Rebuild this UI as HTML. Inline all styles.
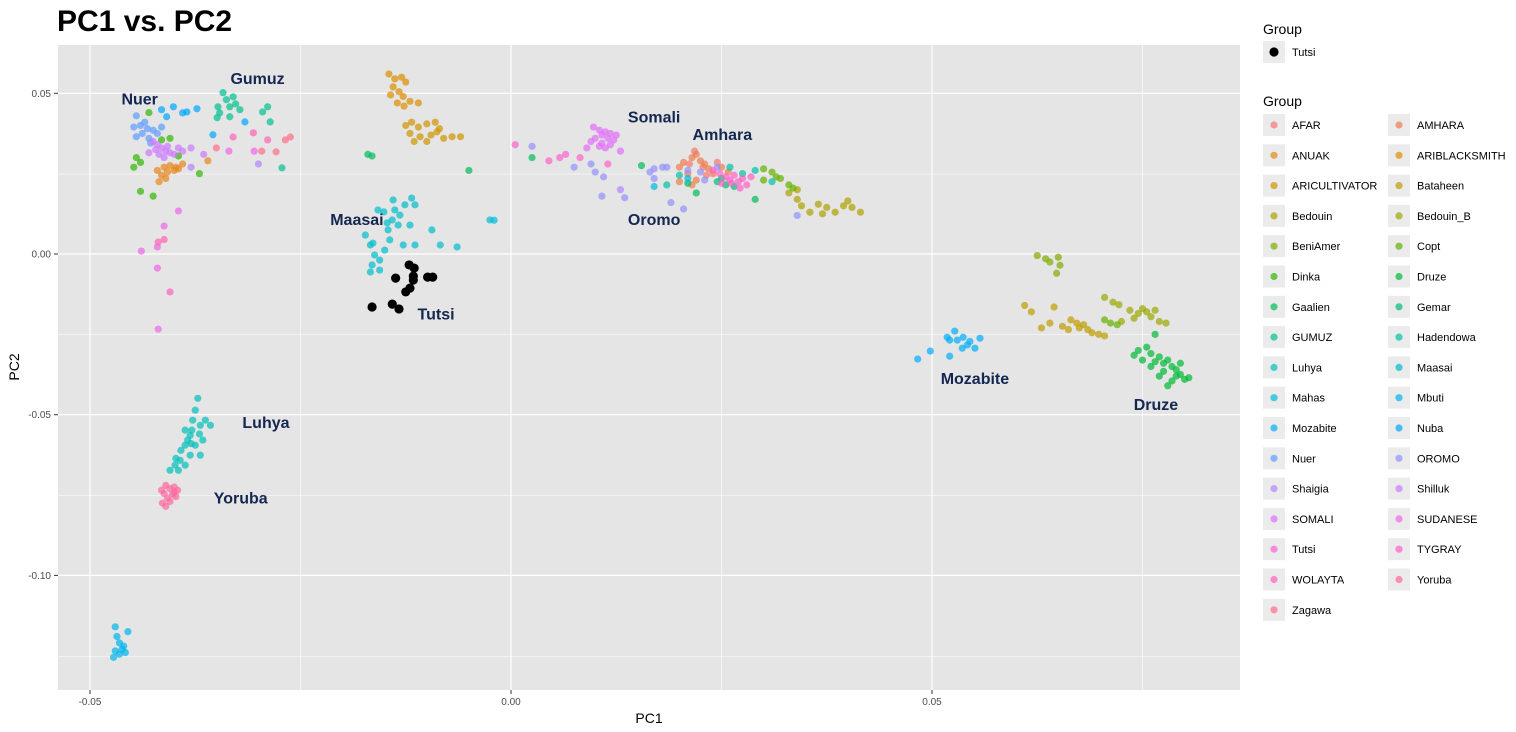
<!DOCTYPE html>
<html><head><meta charset="utf-8"><style>
html,body{margin:0;padding:0;background:#fff;}
svg{display:block;font-family:"Liberation Sans",Arial,sans-serif;}
</style></head><body>
<svg id="chart" width="1516" height="732" viewBox="0 0 1516 732">
<text x="57" y="31" font-size="30" font-weight="bold" fill="#000">PC1 vs. PC2</text>
<rect x="58" y="45" width="1182" height="645" fill="#e5e5e5"/>
<g id="grid"></g><g id="pts"></g><g id="ann"></g><g id="axes"></g><g id="legend"></g>
<text x="649" y="723" font-size="14" text-anchor="middle" fill="#000">PC1</text>
<text transform="translate(19,367) rotate(-90)" font-size="14" text-anchor="middle" fill="#000">PC2</text>
</svg>
<script>
const groupNames=["AFAR","AMHARA","ANUAK","ARIBLACKSMITH","ARICULTIVATOR","Bataheen","Bedouin","Bedouin_B","BeniAmer","Copt","Dinka","Druze","Gaalien","Gemar","GUMUZ","Hadendowa","Luhya","Maasai","Mahas","Mbuti","Mozabite","Nuba","Nuer","OROMO","Shaigia","Shilluk","SOMALI","SUDANESE","Tutsi","TYGRAY","WOLAYTA","Yoruba","Zagawa"];
const xTicks=[-0.05,0,0.05];
const xTickLabels=["-0.05","0.00","0.05"];
const yTicks=[0.05,0,-0.05,-0.10];
const yTickLabels=["0.05","0.00","-0.05","-0.10"];
const afar=[[0.0218,0.0320],[0.0228,0.0270],[0.0245,0.0285],[0.0212,0.0280],[0.0232,0.0245]];
const amhara=[[0.0200,0.0270],[0.0205,0.0285],[0.0215,0.0300],[0.0220,0.0310],[0.0225,0.0290],[0.0230,0.0280],[0.0210,0.0250],[0.0200,0.0225],[0.0235,0.0265],[0.0240,0.0250],[0.0215,0.0215],[0.0250,0.0270],[0.0220,0.0230],[0.0258,0.0255]];
const anuak=[[-0.0420,0.0260],[-0.0412,0.0270],[-0.0405,0.0275],[-0.0398,0.0270],[-0.0408,0.0255],[-0.0415,0.0245],[-0.0400,0.0260],[-0.0410,0.0235],[-0.0418,0.0225],[-0.0390,0.0280],[-0.0360,0.0290],[-0.0395,0.0265]];
const ariblacksmith=[[-0.0145,0.0560],[-0.0138,0.0545],[-0.0130,0.0550],[-0.0125,0.0535],[-0.0140,0.0520],[-0.0133,0.0505],[-0.0128,0.0490],[-0.0143,0.0495],[-0.0120,0.0475],[-0.0110,0.0470],[-0.0135,0.0470],[-0.0127,0.0460]];
const aricultivator=[[-0.0125,0.0400],[-0.0118,0.0410],[-0.0110,0.0395],[-0.0100,0.0405],[-0.0090,0.0410],[-0.0085,0.0390],[-0.0120,0.0375],[-0.0108,0.0365],[-0.0095,0.0370],[-0.0080,0.0360],[-0.0070,0.0365],[-0.0060,0.0365],[-0.0115,0.0350],[-0.0100,0.0350],[-0.0088,0.0380]];
const bataheen=[[0.0610,-0.0160],[0.0618,-0.0180],[0.0630,-0.0230],[0.0640,-0.0215],[0.0655,-0.0225],[0.0665,-0.0205],[0.0672,-0.0215],[0.0675,-0.0230],[0.0680,-0.0220],[0.0685,-0.0235],[0.0690,-0.0245],[0.0698,-0.0250],[0.0705,-0.0255],[0.0662,-0.0235],[0.0645,-0.0165]];
const bedouin=[[0.0330,0.0190],[0.0340,0.0170],[0.0345,0.0150],[0.0355,0.0130],[0.0365,0.0155],[0.0375,0.0145],[0.0385,0.0130],[0.0395,0.0150],[0.0400,0.0165],[0.0405,0.0145],[0.0415,0.0130],[0.0370,0.0125],[0.0340,0.0200]];
const bedouinB=[[0.0705,-0.0135],[0.0715,-0.0150],[0.0722,-0.0158],[0.0735,-0.0175],[0.0745,-0.0185],[0.0750,-0.0170],[0.0755,-0.0180],[0.0760,-0.0195],[0.0770,-0.0210],[0.0740,-0.0200],[0.0765,-0.0175],[0.0725,-0.0210],[0.0778,-0.0215]];
const beniAmer=[[0.0625,-0.0005],[0.0640,-0.0025],[0.0650,-0.0010],[0.0652,-0.0035],[0.0648,-0.0060],[0.0635,-0.0015]];
const copt=[[0.0300,0.0265],[0.0310,0.0255],[0.0315,0.0240],[0.0320,0.0235],[0.0330,0.0215],[0.0335,0.0205],[0.0300,0.0230],[0.0705,-0.0205],[0.0712,-0.0215],[0.0720,-0.0220]];
const dinka=[[-0.0445,0.0300],[-0.0440,0.0285],[-0.0448,0.0270],[-0.0440,0.0195],[-0.0425,0.0180],[-0.0430,0.0440],[-0.0405,0.0360],[-0.0395,0.0305],[-0.0370,0.0250],[-0.0415,0.0355]];
const druze=[[0.0745,-0.0300],[0.0755,-0.0290],[0.0760,-0.0310],[0.0770,-0.0320],[0.0765,-0.0335],[0.0775,-0.0340],[0.0780,-0.0330],[0.0785,-0.0350],[0.0790,-0.0360],[0.0775,-0.0365],[0.0795,-0.0375],[0.0800,-0.0390],[0.0785,-0.0395],[0.0770,-0.0380],[0.0760,-0.0350],[0.0750,-0.0330],[0.0805,-0.0385],[0.0780,-0.0410],[0.0790,-0.0380],[0.0765,-0.0250],[0.0795,-0.0340],[0.0740,-0.0315]];
const gaalien=[[0.0025,0.0300],[0.0155,0.0275],[0.0220,0.0190],[0.0210,0.0220],[0.0290,0.0170],[-0.0170,0.0310],[-0.0165,0.0305],[-0.0050,0.0260]];
const gemar=[[0.0245,0.0225],[0.0255,0.0215],[0.0265,0.0210],[0.0250,0.0235]];
const gumuz=[[-0.0342,0.0502],[-0.0330,0.0489],[-0.0348,0.0458],[-0.0334,0.0458],[-0.0322,0.0449],[-0.0349,0.0424],[-0.0346,0.0439],[-0.0334,0.0427],[-0.0295,0.0442],[-0.0289,0.0458],[-0.0286,0.0411],[-0.0272,0.0268],[-0.0338,0.0480],[-0.0327,0.0467]];
const hadendowa=[[0.0185,0.0215],[0.0200,0.0245],[0.0260,0.0270],[0.0275,0.0250],[0.0290,0.0260],[0.0310,0.0225]];
const luhya=[[-0.0372,-0.0449],[-0.0375,-0.0486],[-0.0363,-0.0517],[-0.0357,-0.0533],[-0.0369,-0.0533],[-0.0379,-0.0548],[-0.0384,-0.0579],[-0.0387,-0.0595],[-0.0375,-0.0595],[-0.0369,-0.0626],[-0.0381,-0.0626],[-0.0393,-0.0642],[-0.0399,-0.0657],[-0.0387,-0.0657],[-0.0395,-0.0673],[-0.0381,-0.0564],[-0.0387,-0.0548],[-0.0405,-0.0673],[-0.0378,-0.0517],[-0.0366,-0.0579],[-0.0392,-0.0611],[-0.0398,-0.0636],[-0.0370,-0.0560],[-0.0380,-0.0590]];
const maasai=[[-0.0173,0.0059],[-0.0167,0.0028],[-0.0162,-0.0003],[-0.0165,-0.0034],[-0.0167,-0.0056],[-0.0156,-0.0019],[-0.0150,0.0012],[-0.0144,0.0044],[-0.0146,0.0075],[-0.0141,0.0106],[-0.0138,0.0137],[-0.0140,0.0168],[-0.0132,0.0121],[-0.0126,0.0153],[-0.0118,0.0174],[-0.0114,0.0153],[-0.0120,0.0090],[-0.0128,0.0028],[-0.0114,0.0028],[-0.0094,0.0075],[-0.0084,0.0028],[-0.0064,0.0022],[-0.0025,0.0106],[-0.0151,0.0131],[-0.0156,-0.0050],[-0.0164,0.0034],[-0.0134,0.0090],[-0.0147,0.0097],[-0.0158,0.0137]];
const mahas=[[0.0170,0.0210],[0.0210,0.0235],[-0.0020,0.0105]];
const mbuti=[[-0.0470,-0.1160],[-0.0455,-0.1175],[-0.0468,-0.1190],[-0.0465,-0.1210],[-0.0460,-0.1220],[-0.0470,-0.1235],[-0.0465,-0.1245],[-0.0472,-0.1255],[-0.0462,-0.1230],[-0.0458,-0.1240]];
const mozabite=[[0.0483,-0.0327],[0.0498,-0.0302],[0.0521,-0.0318],[0.0518,-0.0259],[0.0527,-0.0240],[0.0537,-0.0259],[0.0557,-0.0262],[0.0551,-0.0293],[0.0536,-0.0293],[0.0542,-0.0283],[0.0521,-0.0268],[0.0530,-0.0268],[0.0545,-0.0272]];
const nuba=[[-0.0401,0.0458],[-0.0390,0.0439],[-0.0385,0.0442],[-0.0373,0.0452],[-0.0316,0.0411],[-0.0354,0.0371],[-0.0409,0.0427],[-0.0415,0.0449]];
const nuer=[[-0.0445,0.0430],[-0.0440,0.0400],[-0.0432,0.0390],[-0.0438,0.0375],[-0.0425,0.0385],[-0.0445,0.0365],[-0.0430,0.0360],[-0.0420,0.0375],[-0.0435,0.0410],[-0.0415,0.0395],[-0.0448,0.0395],[-0.0428,0.0345]];
const oromo=[[0.0025,0.0335],[0.0075,0.0270],[0.0095,0.0280],[0.0100,0.0255],[0.0110,0.0240],[0.0108,0.0180],[0.0135,0.0175],[0.0165,0.0255],[0.0170,0.0265],[0.0180,0.0270],[0.0185,0.0270],[0.0170,0.0235],[0.0190,0.0160],[0.0205,0.0140],[0.0225,0.0255],[0.0210,0.0260],[0.0340,0.0120],[0.0230,0.0230],[0.0245,0.0270]];
const shaigia=[[-0.0380,0.0270],[-0.0300,0.0280],[0.0130,0.0200]];
const shilluk=[[-0.0425,0.0350],[-0.0420,0.0340],[-0.0415,0.0330],[-0.0410,0.0320],[-0.0418,0.0310],[-0.0405,0.0315],[-0.0412,0.0300],[-0.0400,0.0310],[-0.0422,0.0325],[-0.0395,0.0330],[-0.0430,0.0315],[-0.0408,0.0335],[-0.0390,0.0320],[-0.0380,0.0330],[-0.0365,0.0310]];
const somali=[[0.0098,0.0395],[0.0105,0.0385],[0.0112,0.0380],[0.0118,0.0375],[0.0108,0.0370],[0.0100,0.0360],[0.0115,0.0360],[0.0122,0.0355],[0.0108,0.0345],[0.0118,0.0340],[0.0105,0.0335],[0.0112,0.0330],[0.0095,0.0350],[0.0125,0.0370],[0.0130,0.0320],[0.0090,0.0330]];
const sudanese=[[-0.0395,0.0134],[-0.0412,0.0087],[-0.0420,0.0022],[-0.0439,0.0009],[-0.0420,-0.0044],[-0.0419,-0.0234],[-0.0335,0.0320],[-0.0305,0.0320]];
const tutsi=[[-0.0165,-0.0165],[-0.0141,-0.0156],[-0.0133,-0.0171],[-0.0125,-0.0118],[-0.0120,-0.0106],[-0.0116,-0.0081],[-0.0115,-0.0044],[-0.0121,-0.0034],[-0.0099,-0.0072],[-0.0093,-0.0072],[-0.0137,-0.0075],[-0.0116,-0.0069]];
const tygray=[[0.0005,0.0340],[0.0045,0.0290],[0.0058,0.0300],[0.0065,0.0310],[0.0082,0.0300],[0.0115,0.0280],[0.0248,0.0250],[0.0255,0.0240],[0.0260,0.0230],[0.0265,0.0245],[0.0270,0.0225],[0.0275,0.0235],[0.0280,0.0215],[0.0262,0.0220],[0.0285,0.0240],[0.0250,0.0220],[0.0240,0.0260],[0.0272,0.0205]];
const wolayta=[[-0.0405,-0.0118],[-0.0419,0.0037],[-0.0412,0.0045],[-0.0330,0.0364],[-0.0306,0.0377],[-0.0289,0.0355]];
const yoruba=[[-0.0410,-0.0720],[-0.0405,-0.0730],[-0.0400,-0.0725],[-0.0396,-0.0735],[-0.0412,-0.0745],[-0.0402,-0.0748],[-0.0408,-0.0760],[-0.0398,-0.0755],[-0.0414,-0.0775],[-0.0405,-0.0770],[-0.0410,-0.0785],[-0.0400,-0.0742],[-0.0415,-0.0735]];
const zagawa=[[-0.0268,0.0355],[-0.0262,0.0364],[-0.0279,0.0318],[-0.0350,0.0330],[-0.0296,0.0320]];
const groupData=[afar,amhara,anuak,ariblacksmith,aricultivator,bataheen,bedouin,bedouinB,beniAmer,copt,dinka,druze,gaalien,gemar,gumuz,hadendowa,luhya,maasai,mahas,mbuti,mozabite,nuba,nuer,oromo,shaigia,shilluk,somali,sudanese,null,tygray,wolayta,yoruba,zagawa];
const annLabels=["Nuer","Gumuz","Somali","Amhara","Oromo","Maasai","Tutsi","Mozabite","Druze","Luhya","Yoruba"];
const annX=[-0.0441,-0.0301,0.0170,0.0251,0.0170,-0.0183,-0.0089,0.0551,0.0766,-0.0291,-0.0321];
const annY=[0.0480,0.0545,0.0425,0.0371,0.0106,0.0106,-0.0189,-0.0389,-0.0470,-0.0526,-0.0760];

const NS="http://www.w3.org/2000/svg";
const X0=58,X1=1240,Y0=45,Y1=690;
function sx(v){return 511+v*8420;}
function sy(v){return 254-v*3214;}
function mk(tag,attrs,parent){const e=document.createElementNS(NS,tag);for(const k in attrs)e.setAttribute(k,attrs[k]);parent.appendChild(e);return e;}
function hcl(h){const L=65,C=100,r=h*Math.PI/180;const u=C*Math.cos(r),v=C*Math.sin(r);
 const Xn=95.047,Yn=100,Zn=108.883;const un=4*Xn/(Xn+15*Yn+3*Zn),vn=9*Yn/(Xn+15*Yn+3*Zn);
 const Y=Yn*Math.pow((L+16)/116,3);const up=u/(13*L)+un,vp=v/(13*L)+vn;
 const X=Y*9*up/(4*vp),Z=Y*(12-3*up-20*vp)/(4*vp);
 const x=X/100,y=Y/100,z=Z/100;
 let R=3.2404542*x-1.5371385*y-0.4985314*z,G=-0.9692660*x+1.8760108*y+0.0415560*z,B=0.0556434*x-0.2040259*y+1.0572252*z;
 const g=c=>{c=c<=0.0031308?12.92*c:1.055*Math.pow(c,1/2.4)-0.055;return Math.round(Math.max(0,Math.min(1,c))*255);};
 return "rgb("+g(R)+","+g(G)+","+g(B)+")";}
const n=groupNames.length;
const colors=groupNames.map((_,i)=>hcl(15+360*i/n));

// grid
const grid=document.getElementById('grid');
[300.5,721.5,1142.5].forEach(x=>{const l=mk('line',{x1:x,x2:x,y1:Y0,y2:Y1,stroke:'#fff','stroke-width':0.6},grid);

});
[174,334.5,495.5,656.5].forEach(y=>{const l=mk('line',{x1:X0,x2:X1,y1:y,y2:y,stroke:'#fff','stroke-width':0.6},grid);

});
const axes=document.getElementById('axes');
xTicks.forEach((t,i)=>{const x=sx(t);const l=mk('line',{x1:x,x2:x,y1:Y0,y2:Y1,stroke:'#fff','stroke-width':1.2},grid);


const tk=mk('line',{x1:x,x2:x,y1:Y1,y2:Y1+4,stroke:'#333','stroke-width':1},axes);


const tx=mk('text',{x:x,y:Y1+15,'font-size':10,'text-anchor':'middle',fill:'#4d4d4d'},axes);tx.textContent=xTickLabels[i];

});
yTicks.forEach((t,i)=>{const y=sy(t);const l=mk('line',{x1:X0,x2:X1,y1:y,y2:y,stroke:'#fff','stroke-width':1.2},grid);


const tk=mk('line',{x1:X0-4,x2:X0,y1:y,y2:y,stroke:'#333','stroke-width':1},axes);


const tx=mk('text',{x:X0-7,y:y+3.5,'font-size':10,'text-anchor':'end',fill:'#4d4d4d'},axes);tx.textContent=yTickLabels[i];

});

// points
const pts=document.getElementById('pts');
groupData.forEach((arr,gi)=>{if(!arr)return;const g=mk('g',{},pts);


arr.forEach(p=>{const c=mk('circle',{cx:sx(p[0]),cy:sy(p[1]),r:3.6,fill:colors[gi],'fill-opacity':0.7},g);

});});
const tg=mk('g',{},pts);


tutsi.forEach(p=>{const c=mk('circle',{cx:sx(p[0]),cy:sy(p[1]),r:4.6,fill:'#000'},tg);

});

// annotations
const ann=document.getElementById('ann');
annLabels.forEach((s,i)=>{const t=mk('text',{x:sx(annX[i]),y:sy(annY[i])+5,'font-size':16,'font-weight':'bold','text-anchor':'middle',fill:'#142750'},ann);t.textContent=s;

});

// legend
const lg=document.getElementById('legend');
let t=mk('text',{x:1263,y:34,'font-size':14,fill:'#000'},lg);t.textContent='Group';


let r=mk('rect',{x:1263,y:41,width:22,height:22,fill:'#ebebeb'},lg);


let c=mk('circle',{cx:1274,cy:52,r:4.6,fill:'#000'},lg);


t=mk('text',{x:1292,y:56,'font-size':11,fill:'#000'},lg);t.textContent='Tutsi';


t=mk('text',{x:1263,y:106,'font-size':14,fill:'#000'},lg);t.textContent='Group';


groupNames.forEach((nm,i)=>{const col=i%2,row=Math.floor(i/2);const x=1263+col*125,y=114+row*30.3;
const g=mk('g',{},lg);


mk('rect',{x:x,y:y,width:22,height:22,fill:'#ebebeb'},g);
mk('circle',{cx:x+11,cy:y+11,r:3.6,fill:colors[i],'fill-opacity':0.7},g);
const tt=mk('text',{x:x+29,y:y+15,'font-size':11,fill:'#000'},g);tt.textContent=nm;});
</script>
</body></html>
